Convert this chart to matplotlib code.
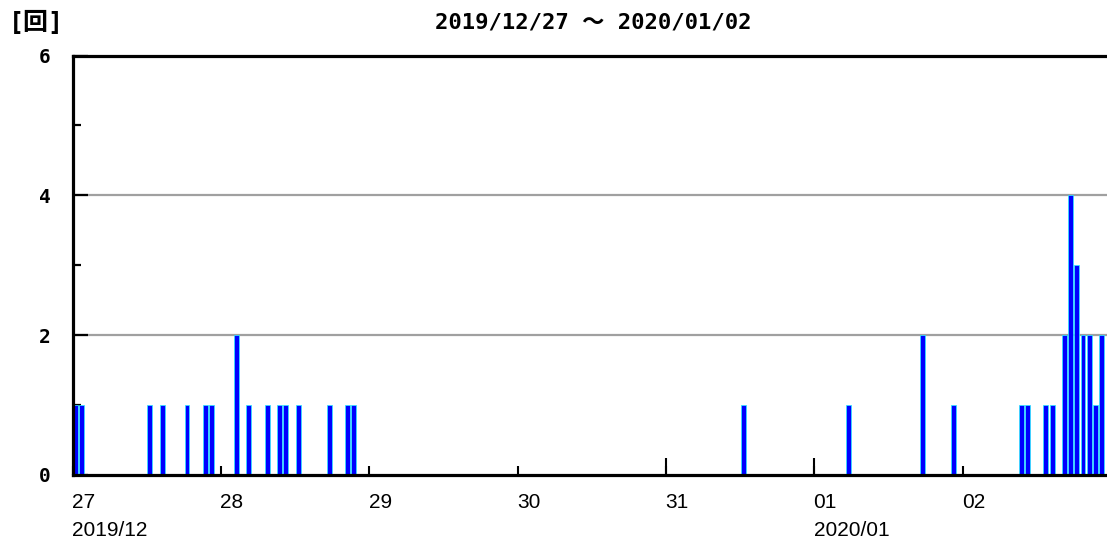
import matplotlib
matplotlib.use("Agg")
import matplotlib.pyplot as plt
from matplotlib.ticker import FixedLocator, NullFormatter
import numpy as np

# hours from 2019/12/27 00:00 and the count in that hour
hours = [0, 1, 12, 14, 18, 21, 22, 26, 28, 31, 33, 34, 36, 41, 44, 45,
         108, 125, 137, 142, 153, 154, 157, 158,
         160, 161, 162, 163, 164, 165, 166]
counts = [1, 1, 1, 1, 1, 1, 1, 2, 1, 1, 1, 1, 1, 1, 1, 1,
          1, 1, 2, 1, 1, 1, 1, 1,
          2, 4, 3, 2, 2, 1, 2]
day_labels = ["27", "28", "29", "30", "31", "01", "02"]
month_labels = {0: "2019/12", 5: "2020/01"}
title_text = "2019/12/27 ～ 2020/01/02"
unit_text = "[回]"
y_ticks = [0, 2, 4, 6]

W, H = 1107, 542
fig = plt.figure(figsize=(W / 100, H / 100), dpi=100)
ax_left = 72.7 / W
ax_bottom = 1 - 475 / H
ax_top = 1 - 55.5 / H
ax = fig.add_axes([ax_left, ax_bottom, 1 - ax_left, ax_top - ax_bottom])

px_per_hour = 148.3 / 24
xmax = (W - 72.7) / px_per_hour
ax.set_xlim(0, xmax)
ax.set_ylim(0, 6)

x = np.array(hours) + 0.5
ax.bar(x, counts, width=0.8, color="#0000ff", edgecolor="#30e8ff",
       linewidth=0.55, zorder=3)

# spines
for s in ["left", "bottom", "top"]:
    ax.spines[s].set_linewidth(2.3)
    ax.spines[s].set_color("black")
    ax.spines[s].set_zorder(5)
ax.spines["right"].set_visible(False)

# y axis
ax.yaxis.set_major_locator(FixedLocator(y_ticks))
ax.yaxis.set_minor_locator(FixedLocator([1, 3, 5]))
ax.tick_params(axis="y", which="major", direction="in", length=11, width=1.6,
               pad=16, labelsize=14, color="black")
ax.tick_params(axis="y", which="minor", direction="in", length=6, width=1.6,
               color="black")
ax.set_yticklabels([str(v) for v in y_ticks], fontweight="bold",
                   family="DejaVu Sans Mono")
for yv in [2, 4]:
    ax.axhline(yv, color="#a0a0a0", lw=1.6, zorder=1)

# x axis: day ticks
day_pos = [24 * i for i in range(len(day_labels))]
ax.xaxis.remove_overlapping_locs = False
ax.xaxis.set_major_locator(FixedLocator(day_pos))
ax.xaxis.set_major_formatter(NullFormatter())
ax.xaxis.set_minor_locator(FixedLocator([24 * 4, 24 * 5]))
ax.tick_params(axis="x", which="major", direction="in", length=6.5, width=1.5,
               color="black", top=False)
ax.tick_params(axis="x", which="minor", direction="in", length=12, width=1.5,
               color="black", top=False)

trans = ax.get_xaxis_transform()
ah = ax_top - ax_bottom
for i, lab in enumerate(day_labels):
    ax.text(day_pos[i] - 0.1, -(493 - 475) / (H * ah), lab, transform=trans,
            ha="left", va="top", fontsize=15, family="Liberation Sans")
for i, lab in month_labels.items():
    ax.text(day_pos[i] - 0.1, -(521 - 475) / (H * ah), lab, transform=trans,
            ha="left", va="top", fontsize=15, family="Liberation Sans")

fig.text(593 / W, 1 - 22 / H, title_text, ha="center", va="center",
         fontsize=16, fontweight="bold",
         family=["DejaVu Sans Mono", "Noto Sans CJK JP"])
fig.text(36 / W, 1 - 23 / H, unit_text, ha="center", va="center",
         fontsize=18, fontweight="bold",
         family=["DejaVu Sans Mono", "Noto Sans CJK JP"])

fig.savefig("out.png", dpi=100)
